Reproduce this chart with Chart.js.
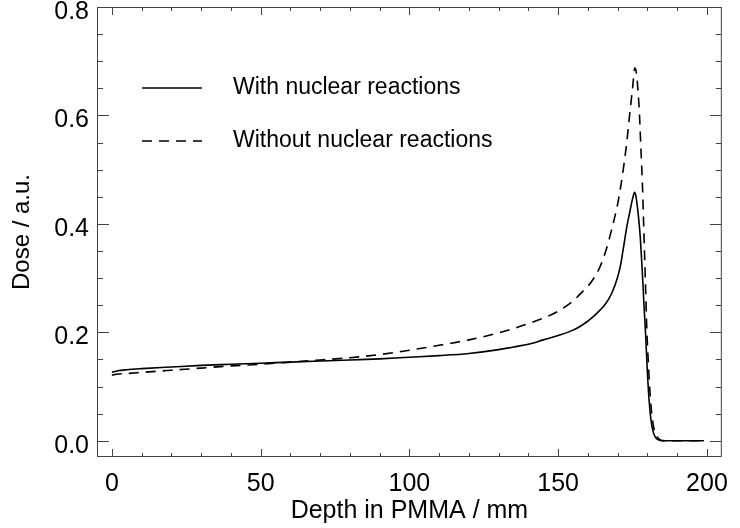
<!DOCTYPE html>
<html>
<head>
<meta charset="utf-8">
<title>Depth dose in PMMA</title>
<script src="https://cdn.jsdelivr.net/npm/chart.js@4.4.0/dist/chart.umd.min.js"></script>
<style>
  html, body { margin: 0; padding: 0; background: #fff; }
</style>
</head>
<body>
<canvas id="doseChart" width="740" height="528"></canvas>
<script>
// depth (mm) and dose (a.u.) for both runs
var depthWith = [0, 2, 5, 10, 20, 30, 40, 50, 60, 70, 80, 90, 100, 110, 120, 130, 135, 140, 145, 150,
    155, 158, 162, 166, 168, 170, 171, 172, 173, 174, 175, 175.7, 176.2, 177, 177.6, 178.2, 178.8,
    179.4, 180, 180.6, 181.2, 182, 183, 184, 186, 190, 195, 199];
var doseWith = [0.126, 0.129, 0.131, 0.133, 0.136, 0.139, 0.141, 0.143, 0.145, 0.147, 0.149, 0.151,
    0.154, 0.157, 0.161, 0.168, 0.173, 0.178, 0.186, 0.194, 0.204, 0.213, 0.230, 0.253, 0.272, 0.302,
    0.325, 0.358, 0.392, 0.420, 0.446, 0.458, 0.449, 0.413, 0.375, 0.320, 0.255, 0.195, 0.125, 0.072,
    0.038, 0.015, 0.004, 0.001, 0, 0, 0, 0];

var depthWithout = [0, 2, 5, 10, 20, 30, 40, 50, 60, 70, 80, 90, 100, 110, 120, 130, 135, 140, 145,
    150, 155, 158, 161, 164, 166, 168, 170, 171, 172, 173, 174, 175, 175.8, 176.3, 176.8, 177.3, 177.8,
    178.3, 178.7, 179.3, 179.8, 180.3, 180.8, 181.3, 181.8, 182.5, 183.4, 184.5, 186, 190, 195, 199];
var doseWithout = [0.121, 0.123, 0.124, 0.126, 0.130, 0.134, 0.138, 0.141, 0.145, 0.149, 0.153, 0.159,
    0.167, 0.176, 0.186, 0.199, 0.207, 0.216, 0.226, 0.239, 0.258, 0.274, 0.292, 0.320, 0.350, 0.390,
    0.437, 0.468, 0.505, 0.548, 0.600, 0.650, 0.688, 0.678, 0.648, 0.605, 0.540, 0.475, 0.405, 0.297,
    0.205, 0.145, 0.095, 0.058, 0.035, 0.015, 0.006, 0.001, 0, 0, 0, 0];

var seriesLabels = ['With nuclear reactions', 'Without nuclear reactions'];

var xTickValues = [0, 50, 100, 150, 200];
var xMinorTicks = [0, 10, 20, 30, 40, 50, 60, 70, 80, 90, 100, 110, 120, 130, 140, 150, 160, 170, 180, 190, 200];
var yTickValues = [0.0, 0.2, 0.4, 0.6, 0.8];
var yMinorTicks = [0.0, 0.05, 0.1, 0.15, 0.2, 0.25, 0.3, 0.35, 0.4, 0.45, 0.5, 0.55, 0.6, 0.65, 0.7, 0.75, 0.8];

var dashPattern = [10, 7];

function toPoints(xs, ys) {
    return xs.map(function (x, i) { return { x: x, y: ys[i] }; });
}

Chart.defaults.font.family = "'Liberation Sans', Arial, sans-serif";
Chart.defaults.color = '#000';

// box frame with inward ticks on all four sides, plus the legend inside the plot
var frameAndLegend = {
    id: 'frameAndLegend',
    afterDraw: function (chart) {
        var ctx = chart.ctx;
        var area = chart.chartArea;
        var xs = chart.scales.x;
        var ys = chart.scales.y;

        ctx.save();
        ctx.strokeStyle = '#444';
        ctx.lineWidth = 1;
        ctx.strokeRect(area.left + 0.5, area.top + 0.5, area.width - 1, area.height - 1);

        ctx.beginPath();
        xMinorTicks.forEach(function (v) {
            var px = Math.round(xs.getPixelForValue(v)) + 0.5;
            var len = xTickValues.indexOf(v) >= 0 ? 8 : 4;
            ctx.moveTo(px, area.bottom);
            ctx.lineTo(px, area.bottom - len);
            ctx.moveTo(px, area.top);
            ctx.lineTo(px, area.top + len);
        });
        yMinorTicks.forEach(function (v) {
            var py = Math.round(ys.getPixelForValue(v)) + 0.5;
            var len = yTickValues.indexOf(v) >= 0 ? 12 : 6;
            ctx.moveTo(area.left, py);
            ctx.lineTo(area.left + len, py);
            ctx.moveTo(area.right, py);
            ctx.lineTo(area.right - len, py);
        });
        ctx.stroke();

        chart.data.datasets.forEach(function (ds, i) {
            var rowY = area.top + 81 + i * 53;
            ctx.strokeStyle = '#000';
            ctx.lineWidth = 1.5;
            ctx.setLineDash(ds.borderDash || []);
            ctx.beginPath();
            ctx.moveTo(area.left + 45, rowY);
            ctx.lineTo(area.left + 105, rowY);
            ctx.stroke();
            ctx.setLineDash([]);
            ctx.fillStyle = '#000';
            ctx.font = "23px 'Liberation Sans', Arial, sans-serif";
            ctx.textBaseline = 'middle';
            ctx.textAlign = 'left';
            ctx.fillText(ds.label, area.left + 136, rowY);
        });
        ctx.restore();
    }
};

var ctx = document.getElementById('doseChart').getContext('2d');

var doseChart = new Chart(ctx, {
    type: 'line',
    data: {
        datasets: [
            {
                label: seriesLabels[0],
                data: toPoints(depthWith, doseWith),
                borderColor: '#000',
                borderWidth: 1.6,
                pointRadius: 0,
                cubicInterpolationMode: 'monotone'
            },
            {
                label: seriesLabels[1],
                data: toPoints(depthWithout, doseWithout),
                borderColor: '#000',
                borderWidth: 1.6,
                borderDash: dashPattern,
                pointRadius: 0,
                cubicInterpolationMode: 'monotone'
            }
        ]
    },
    options: {
        responsive: false,
        animation: false,
        devicePixelRatio: 1,
        layout: {
            padding: { top: 7, right: 9, left: 0, bottom: 0 }
        },
        plugins: {
            legend: { display: false },
            tooltip: { enabled: false }
        },
        scales: {
            x: {
                type: 'linear',
                min: -5,
                max: 205,
                afterFit: function (scale) { scale.height = 71; },
                afterBuildTicks: function (scale) {
                    scale.ticks = xTickValues.map(function (v) { return { value: v }; });
                },
                grid: { display: false, drawTicks: false },
                border: { display: false },
                ticks: {
                    font: { size: 25 },
                    padding: 12,
                    maxRotation: 0,
                    autoSkip: false
                },
                title: {
                    display: true,
                    text: 'Depth in PMMA / mm',
                    font: { size: 25 },
                    padding: { top: 0, bottom: 2 }
                }
            },
            y: {
                min: -0.03,
                max: 0.8,
                afterFit: function (scale) {
                    scale.width = 97;
                    // labels may overhang the plot box; keep the box where it is
                    scale.paddingTop = 0;
                    scale.paddingBottom = 0;
                },
                afterBuildTicks: function (scale) {
                    scale.ticks = yTickValues.map(function (v) { return { value: v }; });
                },
                grid: { display: false, drawTicks: false },
                border: { display: false },
                ticks: {
                    font: { size: 25 },
                    padding: 8,
                    labelOffset: 5,
                    callback: function (v) { return v.toFixed(1); }
                },
                title: {
                    display: true,
                    text: 'Dose / a.u.',
                    font: { size: 24 },
                    padding: { top: 8, bottom: 0 }
                }
            }
        }
    },
    plugins: [frameAndLegend]
});
</script>
</body>
</html>
